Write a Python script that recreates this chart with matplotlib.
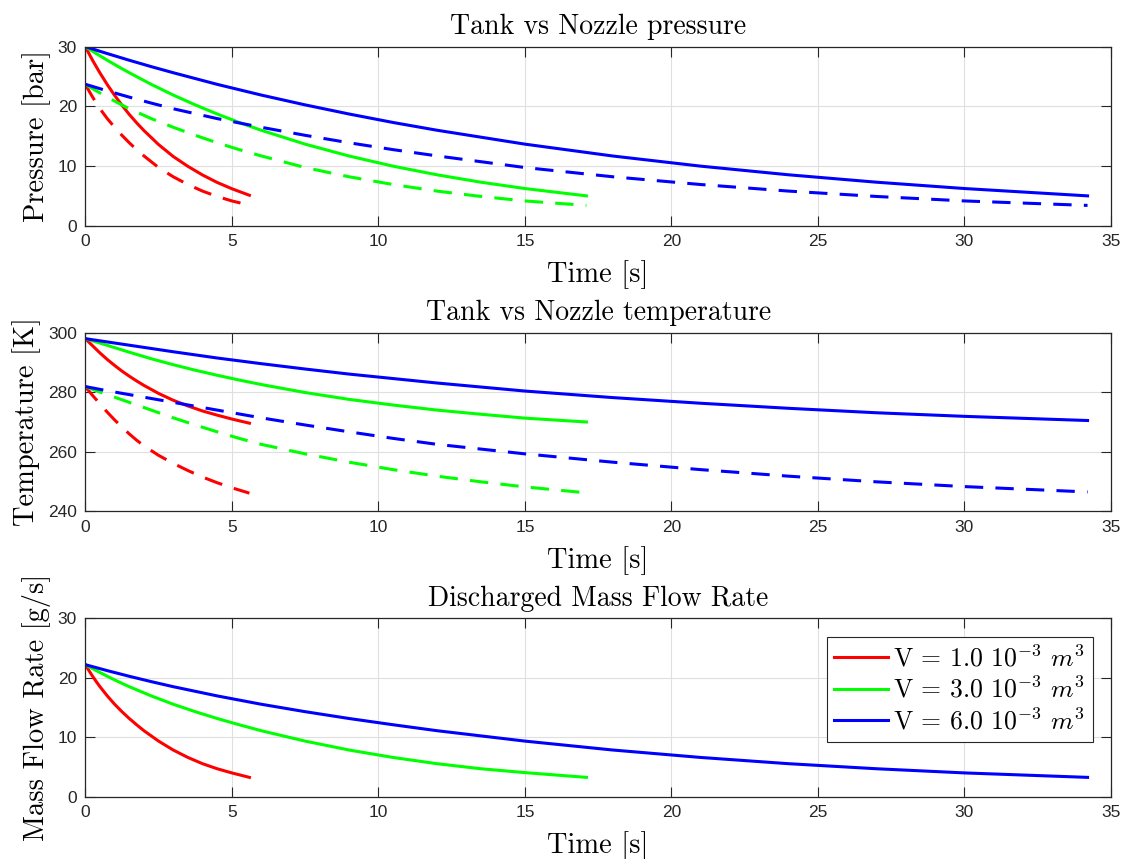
import matplotlib.pyplot as plt

plt.rcParams['font.family'] = ['Liberation Sans', 'DejaVu Sans']
plt.rcParams['mathtext.fontset'] = 'cm'

# time samples (s) for each tank volume
t_red = [0, 0.125, 0.25, 0.375, 0.5, 0.75, 1.0, 1.25, 1.5, 1.75, 2.0, 2.5, 3.0, 3.5, 4.0, 4.5, 5.0, 5.6]
t_green = [0, 0.375, 0.75, 1.125, 1.5, 2.25, 3.0, 3.75, 4.5, 5.25, 6.0, 7.5, 9.0, 10.5, 12.0, 13.5, 15.0, 17.1]
t_blue = [0, 0.75, 1.5, 2.25, 3.0, 4.5, 6.0, 7.5, 9.0, 10.5, 12.0, 15.0, 18.0, 21.0, 24.0, 27.0, 30.0, 34.2]

# tank pressure (bar)
p_tank_red = [30.0, 28.85, 27.7, 26.65, 25.6, 23.65, 21.85, 20.2, 18.65, 17.25, 15.95, 13.6, 11.6, 9.95, 8.5, 7.25, 6.2, 5.1]
p_tank_green = [30.0, 28.85, 27.73, 26.66, 25.64, 23.69, 21.9, 20.25, 18.72, 17.3, 16.0, 13.67, 11.68, 9.98, 8.53, 7.29, 6.23, 5.0]
p_tank_blue = [30.0, 28.85, 27.73, 26.66, 25.64, 23.69, 21.9, 20.25, 18.72, 17.3, 16.0, 13.67, 11.68, 9.98, 8.53, 7.29, 6.23, 5.0]

# nozzle pressure (bar)
p_noz_red = [23.7, 22.6, 21.55, 20.55, 19.6, 17.95, 16.5, 15.15, 13.9, 12.75, 11.7, 9.75, 8.2, 6.9, 5.8, 4.9, 4.15, 3.45]
p_noz_green = [23.7, 22.6, 21.55, 20.55, 19.6, 17.95, 16.5, 15.15, 13.9, 12.75, 11.7, 9.75, 8.2, 6.9, 5.8, 4.9, 4.15, 3.4]
p_noz_blue = [23.7, 22.6, 21.55, 20.55, 19.6, 17.95, 16.5, 15.15, 13.9, 12.75, 11.7, 9.75, 8.2, 6.9, 5.8, 4.9, 4.15, 3.4]

# tank temperature (K)
T_tank_red = [298.0, 296.8, 295.6, 294.4, 293.2, 291.0, 289.0, 287.1, 285.4, 283.8, 282.3, 279.6, 277.3, 275.4, 273.7, 272.3, 271.0, 269.6]
T_tank_green = [298.0, 296.9, 295.75, 294.6, 293.45, 291.25, 289.25, 287.4, 285.7, 284.1, 282.6, 279.9, 277.6, 275.7, 274.0, 272.6, 271.3, 270.0]
T_tank_blue = [298.0, 296.9, 295.8, 294.7, 293.6, 291.5, 289.6, 287.8, 286.1, 284.6, 283.1, 280.4, 278.2, 276.3, 274.6, 273.1, 271.9, 270.5]

# nozzle temperature (K)
T_noz_red = [281.9, 280.4, 278.9, 277.5, 276.0, 273.3, 270.7, 268.3, 266.0, 263.9, 262.0, 258.8, 256.1, 253.7, 251.5, 249.6, 247.9, 246.1]
T_noz_green = [281.9, 280.5, 279.2, 277.9, 276.6, 274.0, 271.4, 269.0, 266.7, 264.5, 262.5, 259.3, 256.5, 254.0, 251.8, 249.9, 248.2, 246.2]
T_noz_blue = [281.9, 280.5, 279.2, 277.9, 276.6, 274.0, 271.4, 269.0, 266.7, 264.5, 262.5, 259.3, 256.5, 254.0, 251.8, 249.9, 248.3, 246.5]

# discharged mass flow rate (g/s)
mdot_red = [22.2, 21.2, 20.25, 19.35, 18.5, 16.95, 15.55, 14.3, 13.15, 12.1, 11.1, 9.35, 7.85, 6.6, 5.55, 4.7, 4.0, 3.25]
mdot_green = [22.2, 21.2, 20.25, 19.35, 18.5, 16.95, 15.55, 14.3, 13.15, 12.1, 11.1, 9.35, 7.85, 6.6, 5.55, 4.7, 4.05, 3.25]
mdot_blue = [22.2, 21.2, 20.25, 19.35, 18.5, 16.95, 15.55, 14.3, 13.15, 12.1, 11.1, 9.35, 7.85, 6.6, 5.55, 4.7, 4.0, 3.25]

labels = [r'V = 1.0 $10^{-3}$ $m^3$', r'V = 3.0 $10^{-3}$ $m^3$', r'V = 6.0 $10^{-3}$ $m^3$']
colors = ['#ff0000', '#00ff00', '#0000ff']
times = [t_red, t_green, t_blue]

W, H = 1121, 859
fig = plt.figure(figsize=(W / 100, H / 100), dpi=100)

def px_axes(x0, y0, x1, y1):
    return fig.add_axes([x0 / W, 1 - y1 / H, (x1 - x0) / W, (y1 - y0) / H])

ax1 = px_axes(85.3, 46.7, 1111, 225.7)
ax2 = px_axes(85.3, 332.7, 1111, 511.3)
ax3 = px_axes(85.3, 618.3, 1111, 796.7)

lw = 2.2
dash = (0, (6, 4))
for t, c, pt, pn in zip(times, colors, [p_tank_red, p_tank_green, p_tank_blue],
                        [p_noz_red, p_noz_green, p_noz_blue]):
    ax1.plot(t, pt, color=c, lw=lw)
    ax1.plot(t, pn, color=c, lw=lw, linestyle=dash)

for t, c, tt, tn in zip(times, colors, [T_tank_red, T_tank_green, T_tank_blue],
                        [T_noz_red, T_noz_green, T_noz_blue]):
    ax2.plot(t, tt, color=c, lw=lw)
    ax2.plot(t, tn, color=c, lw=lw, linestyle=dash)

for t, c, m, lab in zip(times, colors, [mdot_red, mdot_green, mdot_blue], labels):
    ax3.plot(t, m, color=c, lw=lw, label=lab)

cm_font = dict(family='cmr10', size=20.5)
dark = '#262626'

setup = [
    (ax1, (0, 30), [0, 10, 20, 30], 'Pressure [bar]', 'Tank vs Nozzle pressure'),
    (ax2, (240, 300), [240, 260, 280, 300], 'Temperature [K]', 'Tank vs Nozzle temperature'),
    (ax3, (0, 30), [0, 10, 20, 30], 'Mass Flow Rate [g/s]', 'Discharged Mass Flow Rate'),
]
for ax, ylim, yt, ylab, title in setup:
    ax.set_xlim(0, 35)
    ax.set_ylim(*ylim)
    ax.set_xticks(range(0, 36, 5))
    ax.set_yticks(yt)
    ax.grid(True, color='#dfdfdf', linewidth=0.8)
    ax.set_axisbelow(True)
    ax.tick_params(direction='in', length=7, width=0.8, color=dark, labelcolor=dark,
                   labelsize=12.5, top=True, right=True, pad=6)
    for s in ax.spines.values():
        s.set_color(dark)
        s.set_linewidth(0.9)
    ax.set_xlabel('Time [s]', fontdict=cm_font, labelpad=8)
    ax.set_ylabel(ylab, fontdict=cm_font, labelpad=5)
    ax.set_title(title, fontdict=dict(family='cmr10', size=20), pad=9)

leg = ax3.legend(loc='upper right', bbox_to_anchor=(0.9825, 0.895), borderaxespad=0,
                 prop=dict(family='cmr10', size=18.5), handlelength=2.1, handletextpad=0.2,
                 labelspacing=0.2, borderpad=0.3, fancybox=False, framealpha=1)
leg.get_frame().set_edgecolor(dark)
leg.get_frame().set_linewidth(0.8)

fig.savefig('out.png', dpi=100)
